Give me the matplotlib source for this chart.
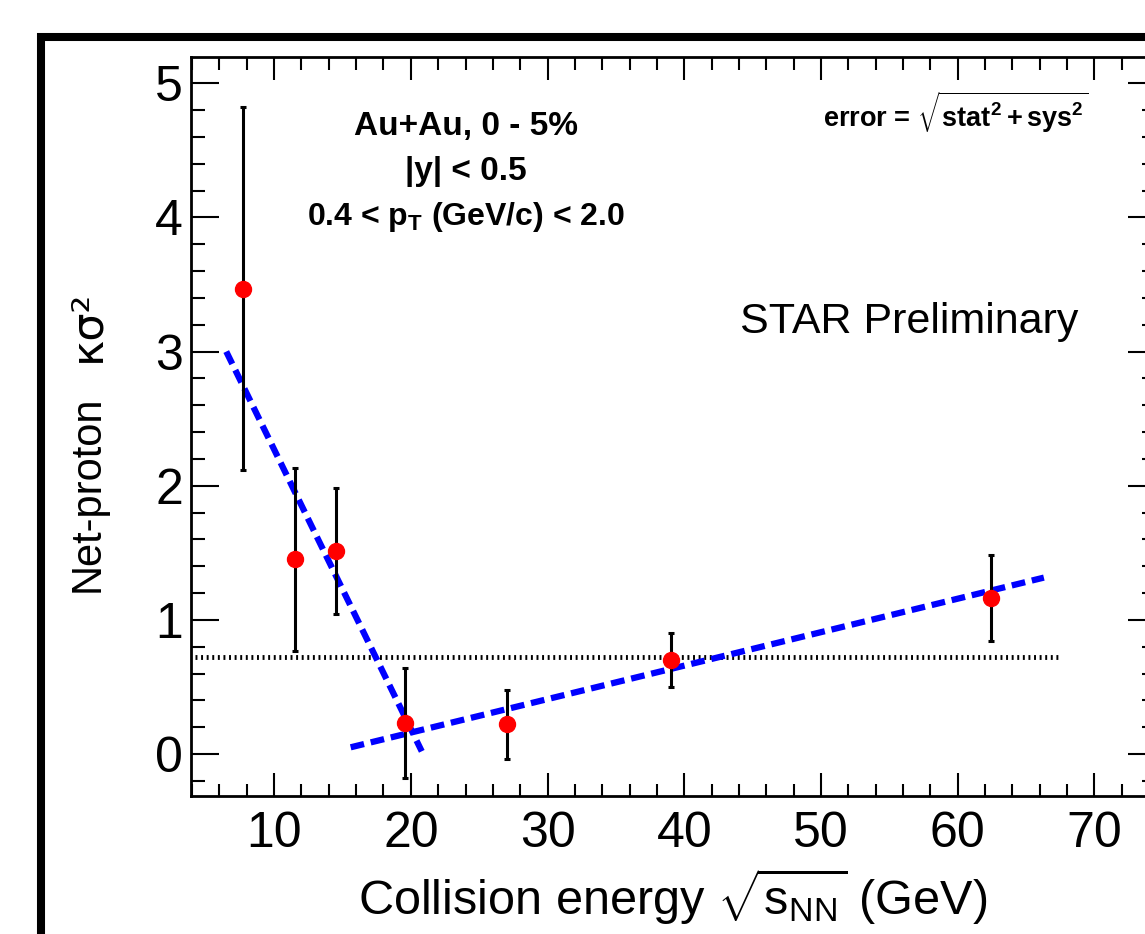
import matplotlib
matplotlib.use("Agg")
import matplotlib.pyplot as plt
from matplotlib.patches import Rectangle

# net-proton kappa*sigma^2 vs collision energy, Au+Au 0-5%
energy = [7.7, 11.5, 14.5, 19.6, 27.0, 39.0, 62.4]
kappa_sigma2 = [3.47, 1.45, 1.51, 0.23, 0.22, 0.70, 1.16]
kappa_err = [1.35, 0.68, 0.47, 0.41, 0.26, 0.20, 0.32]

# two straight-line fits drawn as blue dashes
low_fit_x = [6.5, 20.8]
low_fit_y = [3.0, 0.02]
high_fit_x = [15.6, 66.3]
high_fit_y = [0.05, 1.315]

# dotted reference level
ref_x = [4.2, 67.4]
ref_y = [0.72, 0.72]

x_ticks = [10, 20, 30, 40, 50, 60, 70]
y_ticks = [0, 1, 2, 3, 4, 5]

plt.rcParams['font.family'] = ['Liberation Sans', 'DejaVu Sans']
plt.rcParams['mathtext.fontset'] = 'custom'
plt.rcParams['mathtext.rm'] = 'Liberation Sans'
plt.rcParams['mathtext.it'] = 'Liberation Sans:italic'
plt.rcParams['mathtext.bf'] = 'Liberation Sans:bold'

W, H = 1145, 934
fig = plt.figure(figsize=(W / 100, H / 100), dpi=100)

# axes run off the right edge of the picture, like the cropped original
ax = fig.add_axes([190.7 / W, 138 / H, 965.3 / W, 739.3 / H])
ax.set_xlim(3.9, 74.5)
ax.set_ylim(-0.313, 5.198)

ax.plot(ref_x, ref_y, color='black', linewidth=3.5, linestyle=(0, (0.4, 0.75)),
        dash_capstyle='butt', zorder=2)
for fx, fy in [(low_fit_x, low_fit_y), (high_fit_x, high_fit_y)]:
    ax.plot(fx, fy, color='#0000ff', linewidth=4.5, linestyle=(0, (2.2, 1.1)),
            dash_capstyle='butt', zorder=3)

ax.errorbar(energy, kappa_sigma2, yerr=kappa_err, fmt='o', color='#ff0000',
            markersize=11.5, ecolor='black', elinewidth=2.2, capsize=2.3,
            capthick=2.2, zorder=4)

ax.set_xticks(x_ticks)
ax.set_yticks(y_ticks)
ax.set_xticks([x for x in range(4, 75, 2) if x % 10 != 0], minor=True)
ax.set_yticks([round(-0.2 + 0.2 * i, 1) for i in range(27) if round(-0.2 + 0.2 * i, 1) % 1 != 0], minor=True)
ax.tick_params(which='both', direction='in', top=True, right=True, width=1.5,
               labelsize=36, colors='black')
ax.tick_params(axis='y', which='major', length=20, pad=5.5)
ax.tick_params(axis='y', which='minor', length=10)
ax.tick_params(axis='x', which='major', length=16.5, pad=11)
ax.tick_params(axis='x', which='minor', length=9)
for sp in ax.spines.values():
    sp.set_linewidth(2)

# y title in two pieces: the greek part is wider in the original
fig.text(88 / W, 1 - 592 / H, 'Net-proton', rotation=90, ha='center',
         va='bottom', fontsize=30)
fig.text(87 / W, 1 - 362 / H, 'κσ²', rotation=90, ha='center',
         va='bottom', fontsize=32, family='DejaVu Sans')
fig.text(673 / W, 1 - 915 / H, r'Collision energy $\sqrt{\mathrm{s}_{\mathrm{NN}}}$ (GeV)',
         ha='center', va='baseline', fontsize=35)

fig.text(466 / W, 1 - 135 / H, 'Au+Au, 0 - 5%', ha='center', va='baseline',
         fontsize=24, fontweight='bold')
fig.text(466 / W, 1 - 180 / H, '|y| < 0.5', ha='center', va='baseline',
         fontsize=24, fontweight='bold')
fig.text(466 / W, 1 - 225 / H, r'0.4 < $\mathbf{p_{T}}$ (GeV/c) < 2.0', ha='center',
         va='baseline', fontsize=23, fontweight='bold')
fig.text(823 / W, 1 - 127 / H, r'error = $\mathbf{\sqrt{stat^{2} + sys^{2}}}$',
         ha='left', va='baseline', fontsize=19.5, fontweight='bold')
fig.text(740 / W, 1 - 333 / H, 'STAR Preliminary', ha='left', va='baseline',
         fontsize=31)

# thick black frame around the slide panel
frame = Rectangle((41 / W, -0.2), 1.5, 1.2 - 37 / H, transform=fig.transFigure,
                  fill=False, edgecolor='black', linewidth=5.8, clip_on=False)
fig.add_artist(frame)

plt.savefig('out.png', dpi=100)
